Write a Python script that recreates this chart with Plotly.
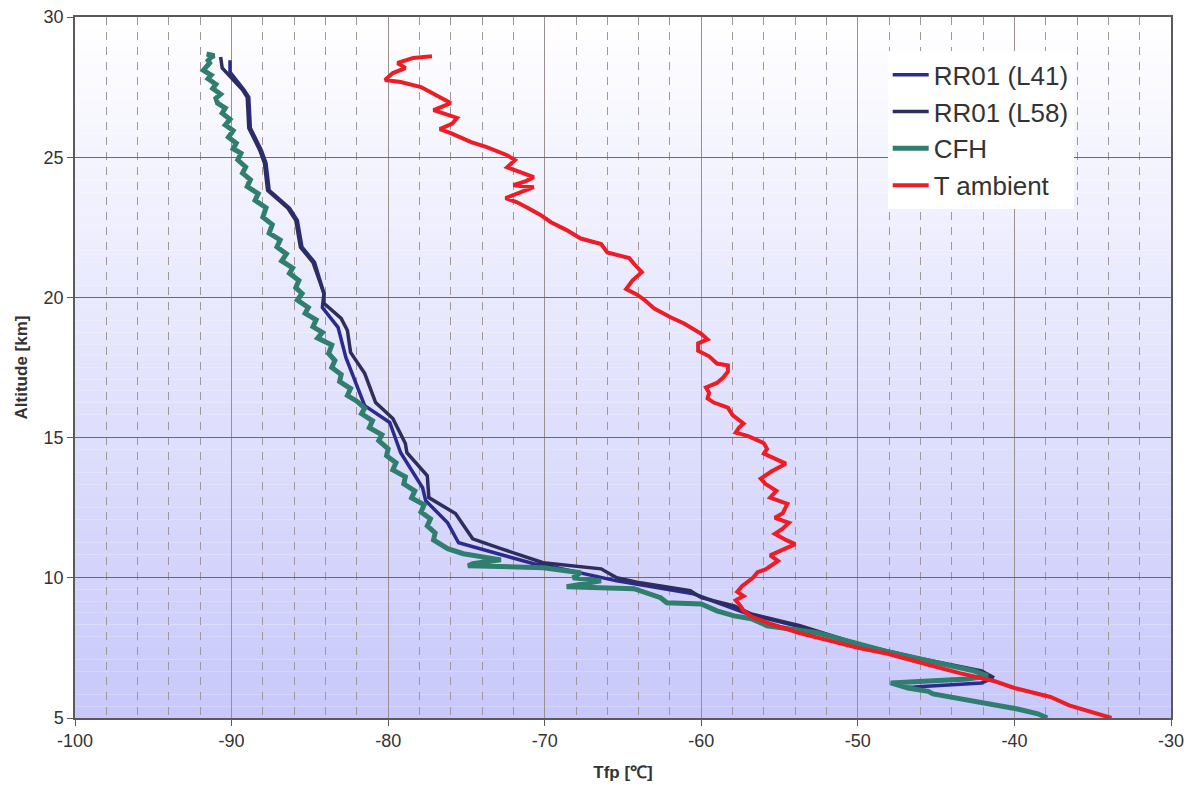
import plotly.graph_objects as go

# ---------------- data ----------------
series_names = ["RR01 (L41)", "RR01 (L58)", "CFH", "T ambient"]
series_colors = ["#2B2B8F", "#2D2D5E", "#2F7E6E", "#EE1C25"]

rr41_t = [-90.1, -90.1, -89.2, -88.9, -88.8, -88.1, -87.8, -87.6, -86.3, -85.8,
          -85.5, -84.7, -84.1, -84.2, -83.2, -82.7, -81.5, -79.9, -79.2, -77.8,
          -77.6, -76.2, -75.5, -70.7, -69.8, -65.4, -60.5, -57.0, -53.8, -50.1,
          -46.3, -42.2, -41.4, -42.1, -46.4, -47.0]
rr41_alt = [28.46, 28.04, 27.40, 27.14, 26.04, 25.25, 24.79, 23.82, 23.18, 22.75,
            21.79, 21.25, 20.14, 19.64, 18.93, 17.86, 16.14, 15.54, 14.46, 13.21,
            12.75, 11.96, 11.25, 10.50, 10.43, 9.89, 9.43, 8.71, 8.27, 7.62,
            7.12, 6.66, 6.42, 6.25, 6.11, 6.10]

rr58_t = [-90.7, -90.6, -89.3, -89.0, -88.9, -88.2, -87.9, -87.7, -86.4, -85.9,
          -85.6, -84.8, -84.1, -84.1, -83.0, -82.6, -82.4, -81.5, -80.8, -79.7,
          -78.9, -78.8, -77.5, -77.4, -75.7, -74.6, -72.8, -70.1, -66.4, -65.4,
          -63.9, -60.7, -60.0, -57.9, -56.8, -53.7, -50.0, -46.2, -42.1, -41.3]
rr58_alt = [28.57, 28.18, 27.40, 27.14, 26.04, 25.25, 24.79, 23.82, 23.18, 22.75,
            21.79, 21.25, 20.14, 19.79, 19.25, 18.82, 18.04, 17.29, 16.25, 15.68,
            14.79, 14.46, 13.64, 12.86, 12.29, 11.39, 11.04, 10.54, 10.32, 10.00,
            9.82, 9.54, 9.29, 9.00, 8.71, 8.29, 7.64, 7.14, 6.68, 6.43]

cfh_t = [-91.6, -91.1, -91.3, -91.5, -91.4, -91.8, -91.3, -91.5, -91.0, -91.2,
         -90.7, -91.0, -90.9, -90.4, -90.6, -90.1, -90.4, -89.9, -90.2, -89.7,
         -89.9, -89.4, -89.6, -89.1, -89.3, -88.8, -89.0, -88.3, -88.5, -87.8,
         -88.0, -87.4, -87.6, -86.9, -87.1, -86.5, -86.8, -86.1, -86.3, -85.7,
         -85.9, -85.5, -85.8, -85.1, -85.3, -84.6, -84.8, -84.2, -84.5, -83.6,
         -83.8, -83.4, -83.6, -83.0, -83.1, -82.4, -82.6, -82.0, -81.5, -81.7,
         -81.0, -81.2, -80.4, -80.6, -80.0, -80.1, -79.5, -79.7, -78.9, -79.0,
         -78.3, -78.5, -77.7, -77.9, -77.3, -77.5, -77.0, -77.1, -76.2, -75.2,
         -72.8, -74.6, -74.9, -72.0, -70.1, -67.7, -68.2, -66.4, -68.6, -64.3,
         -62.6, -62.2, -60.0, -59.0, -57.9, -56.8, -55.8, -52.6, -48.3, -42.6,
         -41.7, -43.0, -47.9, -46.8, -45.5, -45.2, -43.5, -41.7, -39.8, -38.5,
         -37.9]
cfh_alt = [28.68, 28.62, 28.57, 28.45, 28.36, 28.10, 27.93, 27.80, 27.60, 27.45,
           27.25, 27.10, 26.93, 26.75, 26.57, 26.35, 26.15, 25.95, 25.71, 25.50,
           25.30, 25.14, 24.90, 24.65, 24.43, 24.20, 23.95, 23.70, 23.46, 23.20,
           22.86, 22.60, 22.29, 22.05, 21.80, 21.55, 21.30, 21.05, 20.86, 20.60,
           20.35, 20.14, 19.90, 19.64, 19.43, 19.20, 18.95, 18.75, 18.55, 18.30,
           18.00, 17.75, 17.50, 17.25, 17.00, 16.75, 16.50, 16.30, 16.05, 15.85,
           15.60, 15.35, 15.10, 14.89, 14.60, 14.35, 14.10, 13.85, 13.60, 13.35,
           13.10, 12.85, 12.60, 12.35, 12.10, 11.85, 11.60, 11.35, 11.04, 10.86,
           10.64, 10.50, 10.43, 10.40, 10.36, 10.18, 10.00, 9.89, 9.68, 9.61,
           9.29, 9.11, 9.07, 8.82, 8.64, 8.54, 8.29, 8.04, 7.39, 6.68,
           6.50, 6.39, 6.25, 6.07, 5.95, 5.86, 5.70, 5.50, 5.32, 5.15,
           5.00]

tamb_t = [-33.8, -35.0, -36.5, -37.7, -39.0, -40.0, -41.3, -43.5, -45.5, -48.1,
          -50.0, -52.0, -53.8, -55.8, -56.8, -57.3, -57.5, -57.8, -57.3, -57.7,
          -57.4, -56.7, -56.4, -55.9, -55.4, -55.1, -55.6, -54.0, -54.6, -55.3,
          -54.8, -54.4, -55.3, -54.8, -54.5, -55.6, -55.2, -55.9, -56.2, -55.5,
          -54.6, -55.3, -56.0, -55.8, -56.0, -57.0, -57.8, -57.6, -57.3, -58.0,
          -58.3, -59.2, -59.6, -59.5, -59.7, -59.0, -58.6, -58.3, -58.3, -59.0,
          -59.5, -60.2, -60.2, -59.6, -60.0, -61.1, -62.0, -63.0, -63.6, -64.1,
          -64.8, -64.4, -63.8, -64.3, -64.6, -66.0, -66.4, -67.7, -68.6, -69.6,
          -70.3, -71.1, -71.8, -72.5, -71.6, -70.7, -72.0, -71.2, -70.7, -71.5,
          -72.4, -71.9, -72.4, -73.7, -74.7, -76.0, -76.7, -75.9, -75.6, -77.1,
          -76.0, -76.9, -77.9, -79.2, -80.2, -79.7, -78.9, -79.4, -78.4, -77.2]
tamb_alt = [5.00, 5.20, 5.45, 5.75, 5.95, 6.07, 6.32, 6.60, 6.90, 7.29,
            7.50, 7.78, 8.04, 8.40, 8.62, 8.82, 9.00, 9.20, 9.35, 9.50,
            9.70, 10.00, 10.20, 10.30, 10.50, 10.60, 10.80, 11.20, 11.35, 11.57,
            11.75, 11.96, 12.14, 12.30, 12.64, 12.86, 13.10, 13.35, 13.54, 13.80,
            14.07, 14.25, 14.43, 14.60, 14.80, 15.05, 15.18, 15.35, 15.50, 15.80,
            16.07, 16.25, 16.40, 16.60, 16.79, 16.95, 17.14, 17.35, 17.57, 17.64,
            17.90, 18.10, 18.36, 18.50, 18.70, 19.07, 19.30, 19.60, 19.90, 20.10,
            20.30, 20.60, 20.90, 21.20, 21.40, 21.60, 21.90, 22.10, 22.40, 22.68,
            22.95, 23.20, 23.40, 23.54, 23.75, 23.93, 24.00, 24.15, 24.29, 24.45,
            24.64, 24.90, 25.07, 25.36, 25.54, 25.86, 26.00, 26.20, 26.40, 26.68,
            26.93, 27.20, 27.50, 27.68, 27.75, 28.00, 28.18, 28.36, 28.54, 28.60]

x_ticks = [-100, -90, -80, -70, -60, -50, -40, -30]
x_tick_labels = ["-100", "-90", "-80", "-70", "-60", "-50", "-40", "-30"]
y_ticks = [5, 10, 15, 20, 25, 30]
y_tick_labels = ["5", "10", "15", "20", "25", "30"]
x_range = [-100, -30]
y_range = [5, 30]
x_title = "Tfp [℃]"
y_title = "Altitude [km]"

# ---------------- figure ----------------
series_x = [rr41_t, rr58_t, cfh_t, tamb_t]
series_y = [rr41_alt, rr58_alt, cfh_alt, tamb_alt]
widths = [3.5, 3.5, 5.0, 4.0]

fig = go.Figure()
for name, xs, ys, c, w in zip(series_names, series_x, series_y, series_colors, widths):
    fig.add_trace(go.Scatter(x=xs, y=ys, mode="lines", name=name,
                             line=dict(color=c, width=w)))

# vertical gradient background (white at top -> lavender at bottom), drawn as bands
n_bands = 60
top_rgb = (255, 255, 255)
bot_rgb = (200, 200, 251)
shapes = []
for i in range(n_bands):
    y0 = y_range[0] + (y_range[1] - y_range[0]) * i / n_bands
    y1 = y_range[0] + (y_range[1] - y_range[0]) * (i + 1) / n_bands
    f = (i + 0.5) / n_bands
    rgb = tuple(round(b + (t - b) * f) for b, t in zip(bot_rgb, top_rgb))
    shapes.append(dict(type="rect", xref="paper", yref="y", x0=0, x1=1, y0=y0, y1=y1,
                       fillcolor="rgb(%d,%d,%d)" % rgb, line=dict(width=0), layer="below"))

# the page body has an 8px margin, so the figure is sized/offset to compensate
fig.update_layout(
    width=1180, height=778,
    margin=dict(l=67, r=17, t=9, b=68, autoexpand=False),
    paper_bgcolor="white",
    plot_bgcolor="rgba(0,0,0,0)",
    shapes=shapes,
    font=dict(family="Liberation Sans, Arial, sans-serif", color="#333333"),
    showlegend=True,
    legend=dict(x=0.7415, y=0.951, xanchor="left", yanchor="top",
                bgcolor="white", borderwidth=0,
                font=dict(size=26, color="#333333"),
                itemwidth=36, tracegroupgap=0),
)

fig.update_xaxes(
    range=x_range, tickvals=x_ticks, ticktext=x_tick_labels,
    showgrid=True, gridcolor="#9a9090", gridwidth=1,
    minor=dict(dtick=2, tick0=-100, showgrid=True, gridcolor="#a09898",
               griddash="8px,7px", gridwidth=1),
    showline=True, linecolor="#5a5a5a", linewidth=1.5, mirror=True,
    ticks="outside", ticklen=6, tickcolor="#5a5a5a",
    tickfont=dict(size=18, color="#333333"),
    ticklabeloverflow="allow",
    zeroline=False, automargin=False,
    title=dict(text=x_title, standoff=16,
               font=dict(size=17, family="Liberation Sans, Arial", color="#333333",
                         weight="bold")),
)
fig.update_yaxes(
    range=y_range, tickvals=y_ticks, ticktext=y_tick_labels,
    showgrid=True, gridcolor="#6e6a6a", gridwidth=1,
    showline=True, linecolor="#5a5a5a", linewidth=1.5, mirror=True,
    ticks="outside", ticklen=6, tickcolor="#5a5a5a",
    tickfont=dict(size=18, color="#333333"),
    ticklabeloverflow="allow",
    zeroline=False, automargin=False,
    title=dict(text=y_title, standoff=12,
               font=dict(size=17, family="Liberation Sans Narrow, Liberation Sans, Arial",
                         color="#333333", weight="bold")),
)

fig.write_html("out.html")
